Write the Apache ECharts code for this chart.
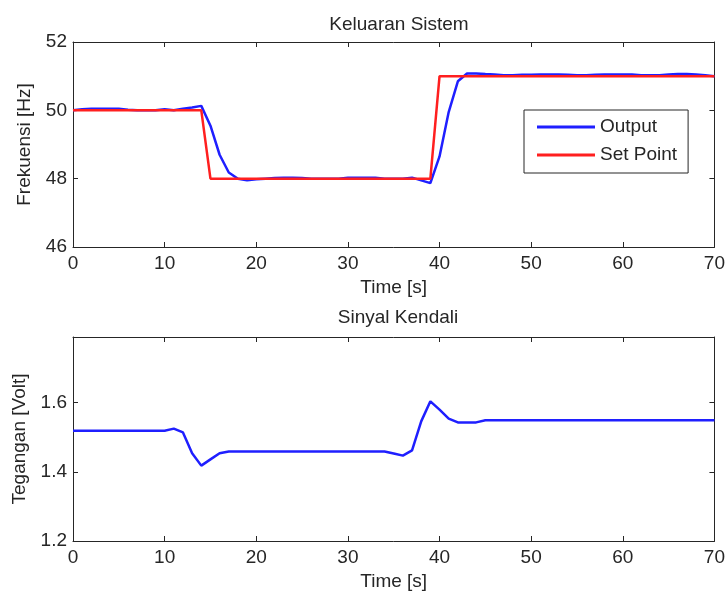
<!DOCTYPE html>
<html>
<head>
<meta charset="utf-8">
<script src="https://cdn.jsdelivr.net/npm/echarts@6/dist/echarts.min.js"></script>
<style>html,body{margin:0;padding:0;background:#fff}#c{width:728px;height:596px}</style>
</head>
<body>
<div id="c"></div>
<script>
// ---- data ----
var time = [];
for (var i = 0; i <= 70; i++) time.push(i);
var outputHz = [50.0,50.03,50.05,50.05,50.05,50.05,50.02,50.0,50.0,50.0,
  50.03,50.0,50.05,50.08,50.13,49.55,48.7,48.18,48.0,47.95,
  47.98,48.0,48.02,48.03,48.03,48.02,48.0,48.0,48.0,48.0,
  48.03,48.03,48.03,48.03,48.0,48.0,48.0,48.03,47.95,47.87,
  48.65,49.95,50.85,51.08,51.08,51.06,51.05,51.03,51.03,51.04,
  51.04,51.05,51.05,51.05,51.04,51.03,51.03,51.04,51.05,51.05,
  51.05,51.05,51.03,51.03,51.03,51.05,51.06,51.06,51.05,51.03,51.0];
var setPointTime = [0, 14, 15, 39, 40, 70];
var setPointHz = [50, 50, 48, 48, 51, 51];
var controlVolt = [1.519,1.519,1.519,1.519,1.519,1.519,1.519,1.519,1.519,1.519,
  1.519,1.525,1.514,1.454,1.418,1.436,1.454,1.459,1.459,1.459,
  1.459,1.459,1.459,1.459,1.459,1.459,1.459,1.459,1.459,1.459,
  1.459,1.459,1.459,1.459,1.459,1.453,1.447,1.462,1.546,1.604,
  1.58,1.554,1.543,1.543,1.543,1.549,1.549,1.549,1.549,1.549,
  1.549,1.549,1.549,1.549,1.549,1.549,1.549,1.549,1.549,1.549,
  1.549,1.549,1.549,1.549,1.549,1.549,1.549,1.549,1.549,1.549,1.549];
var xTicks = [0, 10, 20, 30, 40, 50, 60, 70];
var yTicksTop = [46, 48, 50, 52];
var yTicksBottom = [1.2, 1.4, 1.6];
var titles = ['Keluaran Sistem', 'Sinyal Kendali'];
var legendNames = ['Output', 'Set Point'];

// ---- chart ----
var FONT = '"Liberation Sans", Arial, sans-serif';
var FS = 19;
var TXT = '#262626';
function zip(a, b) { return a.map(function (v, i) { return [v, b[i]]; }); }

function xAx(grid, pos, showLabel, nameGap) {
  return {
    type: 'value', gridIndex: grid, position: pos, min: 0, max: 70, interval: 10,
    name: showLabel ? 'Time [s]' : '', nameLocation: 'middle', nameGap: nameGap,
    nameTextStyle: { fontFamily: FONT, fontSize: FS, color: TXT },
    axisLine: { show: true, onZero: false, lineStyle: { color: TXT, width: 1 } },
    axisTick: { show: true, inside: true, length: 5, customValues: xTicks, lineStyle: { color: TXT } },
    axisLabel: { show: showLabel, margin: 7, customValues: xTicks, fontFamily: FONT, fontSize: FS, color: TXT },
    splitLine: { show: false }
  };
}
function yAx(grid, pos, showLabel, min, max, ticks, name, nameGap, fmt) {
  return {
    type: 'value', gridIndex: grid, position: pos, min: min, max: max,
    name: showLabel ? name : '', nameLocation: 'middle', nameGap: nameGap,
    nameTextStyle: { fontFamily: FONT, fontSize: FS, color: TXT },
    axisLine: { show: true, onZero: false, lineStyle: { color: TXT, width: 1 } },
    axisTick: { show: true, inside: true, length: 5, customValues: ticks, lineStyle: { color: TXT } },
    axisLabel: { show: showLabel, margin: 6, customValues: ticks, fontFamily: FONT, fontSize: FS, color: TXT, formatter: fmt },
    splitLine: { show: false }
  };
}

var chart = echarts.init(document.getElementById('c'), null, { renderer: 'canvas' });
chart.setOption({
  animation: false,
  backgroundColor: '#fff',
  title: [
    { text: titles[0], left: 394, top: 10, textAlign: 'center',
      textStyle: { fontFamily: FONT, fontSize: FS, fontWeight: 'normal', color: TXT } },
    { text: titles[1], left: 393, top: 303, textAlign: 'center',
      textStyle: { fontFamily: FONT, fontSize: FS, fontWeight: 'normal', color: TXT } }
  ],
  legend: {
    data: legendNames, orient: 'vertical', left: 524, top: 110,
    padding: [7, 11, 8, 13], itemGap: 8, itemWidth: 58, itemHeight: 3,
    icon: 'rect', borderColor: TXT, borderWidth: 1, backgroundColor: '#fff',
    textStyle: { fontFamily: FONT, fontSize: FS, color: TXT, lineHeight: 20 }
  },
  grid: [
    { left: 73, right: 13, top: 42, height: 205 },
    { left: 73, right: 13, top: 337, height: 204 }
  ],
  xAxis: [
    xAx(0, 'bottom', true, 31),
    xAx(0, 'top', false, 0),
    xAx(1, 'bottom', true, 31),
    xAx(1, 'top', false, 0)
  ],
  yAxis: [
    yAx(0, 'left', true, 46, 52, yTicksTop, 'Frekuensi [Hz]', 39, function (v) { return String(v); }),
    yAx(0, 'right', false, 46, 52, yTicksTop, '', 0),
    yAx(1, 'left', true, 1.2, 1.79, yTicksBottom, 'Tegangan [Volt]', 44, function (v) { return v.toFixed(1); }),
    yAx(1, 'right', false, 1.2, 1.79, yTicksBottom, '', 0)
  ],
  series: [
    { name: legendNames[0], type: 'line', xAxisIndex: 0, yAxisIndex: 0, data: zip(time, outputHz),
      showSymbol: false, lineStyle: { color: '#1f1fff', width: 2.5 }, itemStyle: { color: '#1f1fff' }, z: 2 },
    { name: legendNames[1], type: 'line', xAxisIndex: 0, yAxisIndex: 0, data: zip(setPointTime, setPointHz),
      showSymbol: false, lineStyle: { color: '#ff1f1f', width: 2.5 }, itemStyle: { color: '#ff1f1f' }, z: 3 },
    { name: 'Kendali', type: 'line', xAxisIndex: 2, yAxisIndex: 2, data: zip(time, controlVolt),
      showSymbol: false, lineStyle: { color: '#1f1fff', width: 2.5 }, itemStyle: { color: '#1f1fff' } }
  ]
});
</script>
</body>
</html>
